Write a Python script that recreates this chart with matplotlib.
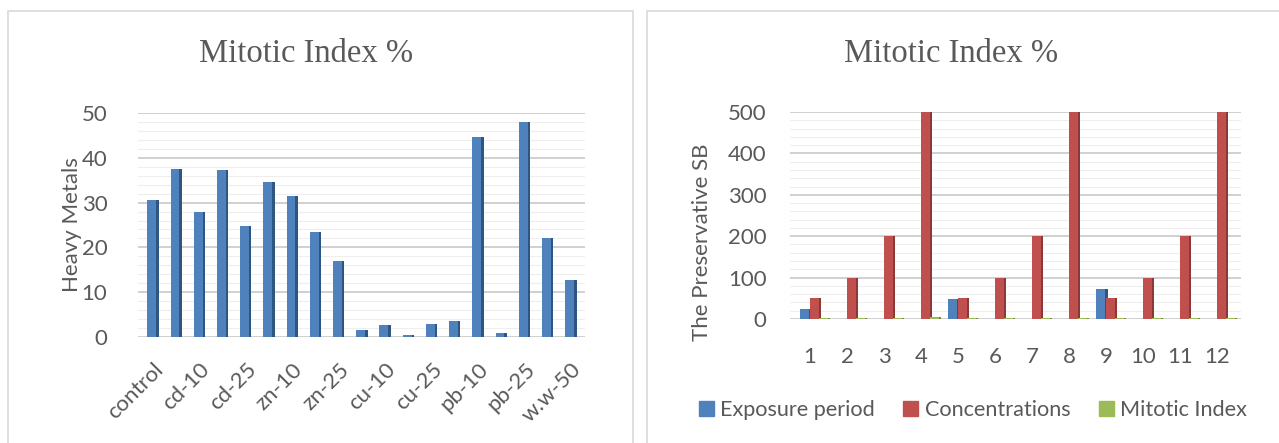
import numpy as np
import matplotlib
matplotlib.use("Agg")
import matplotlib.pyplot as plt
from matplotlib.patches import Rectangle

# ---- data ----
metal_groups = ["control", "cd-5", "cd-10", "cd-15", "cd-25", "zn-5", "zn-10", "zn-15",
                "zn-25", "cu-5", "cu-10", "cu-15", "cu-25", "pb-5", "pb-10", "pb-15",
                "pb-25", "w.w-25", "w.w-50"]
metal_mi = [30.5, 37.5, 28.0, 37.2, 24.7, 34.5, 31.5, 23.5, 17.0, 1.5, 2.7, 0.5, 2.8,
            3.5, 44.7, 1.0, 48.0, 22.0, 12.8]

sb_groups = ["1", "2", "3", "4", "5", "6", "7", "8", "9", "10", "11", "12"]
exposure_period = [24, 0, 0, 0, 48, 0, 0, 0, 72, 0, 0, 0]
concentrations = [50, 100, 200, 500, 50, 100, 200, 500, 50, 100, 200, 500]
mitotic_index = [3.5, 3.0, 2.8, 6.0, 3.2, 2.5, 2.4, 3.5, 3.0, 2.6, 3.2, 3.4]
series_names = ["Exposure period", "Concentrations", "Mitotic Index"]

TEXT = "#595959"
W, H = 1279, 443
fig = plt.figure(figsize=(W / 100, H / 100), dpi=100)
plt.rcParams["font.family"] = ["Lato", "DejaVu Sans"]
TICK = 16


def px_axes(x0, y0, x1, y1):
    return fig.add_axes([x0 / W, 1 - y1 / H, (x1 - x0) / W, (y1 - y0) / H])


def panel(x0, y0, x1, y1):
    fig.patches.append(Rectangle((x0 / W, 1 - y1 / H), (x1 - x0) / W, (y1 - y0) / H,
                                 transform=fig.transFigure, fill=False,
                                 edgecolor="#D9D9D9", linewidth=1.2))


def style_axes(ax, ymax, major, minor, ypad):
    for s in ax.spines.values():
        s.set_visible(False)
    for v in np.arange(0, ymax + 1e-9, minor):
        is_major = abs(v / major - round(v / major)) < 1e-6
        ax.axhline(v, color="#D0D0D0" if is_major else "#EEEEEE",
                   lw=1.4 if is_major else 0.8, zorder=0)
    ax.set_ylim(0, ymax)
    ax.set_yticks(np.arange(0, ymax + 1e-9, major))
    ax.tick_params(axis="both", length=0, colors=TEXT, labelsize=TICK)
    ax.tick_params(axis="y", pad=ypad)


def bars3d(ax, x, vals, width, face, side):
    side_w = width * 0.28
    ax.bar(x, vals, width=width, color=face, align="center", zorder=3, linewidth=0)
    ax.bar(np.asarray(x) + width / 2 + side_w / 2, vals, width=side_w, color=side,
           align="center", zorder=3, linewidth=0)


panel(8, 11, 633, 445)
panel(647, 11, 1290, 445)

# ---- left chart ----
axl = px_axes(138, 113, 585, 337)
xl = np.arange(len(metal_groups))
style_axes(axl, 50, 10, 2, 22)
bars3d(axl, xl - 0.06, metal_mi, 0.38, "#4F81BD", "#2F5583")
axl.set_xlim(-0.65, len(metal_groups) - 1 + 0.6)
axl.set_xticks(xl[::2])
axl.set_xticklabels(metal_groups[::2], rotation=45, ha="right", rotation_mode="anchor")
axl.tick_params(axis="x", pad=16)
axl.set_ylabel("Heavy Metals", color=TEXT, fontsize=16, labelpad=0)
fig.text(306 / W, 1 - 62 / H, "Mitotic Index %", ha="center", va="baseline",
         fontsize=23.5, color=TEXT, family="Liberation Serif")

# ---- right chart ----
axr = px_axes(790, 112, 1241, 319)
xr = np.arange(1, len(sb_groups) + 1)
style_axes(axr, 500, 100, 20, 17)
bw = 0.24
bars3d(axr, xr - 0.14, exposure_period, bw, "#4F81BD", "#2F5583")
bars3d(axr, xr + 0.12, concentrations, bw, "#C0504D", "#8C3836")
bars3d(axr, xr + 0.36, mitotic_index, bw, "#9BBB59", "#71893F")
axr.set_xlim(0.46, 12.65)
axr.set_xticks(xr)
axr.set_xticklabels(sb_groups)
axr.tick_params(axis="x", pad=20)
axr.set_ylabel("The Preservative SB", color=TEXT, fontsize=16)
axr.yaxis.set_label_coords(-0.173, 0.37)
fig.text(951 / W, 1 - 62 / H, "Mitotic Index %", ha="center", va="baseline",
         fontsize=23.5, color=TEXT, family="Liberation Serif")

handles = [Rectangle((0, 0), 1, 1, color=c) for c in ("#4F81BD", "#C0504D", "#9BBB59")]
fig.legend(handles, series_names, loc="center", bbox_to_anchor=(973 / W, 1 - 410 / H),
           ncol=3, frameon=False, fontsize=15.6, labelcolor=TEXT, handlelength=0.7,
           handleheight=0.7, handletextpad=0.3, columnspacing=1.3)

fig.savefig("out.png", dpi=100)
